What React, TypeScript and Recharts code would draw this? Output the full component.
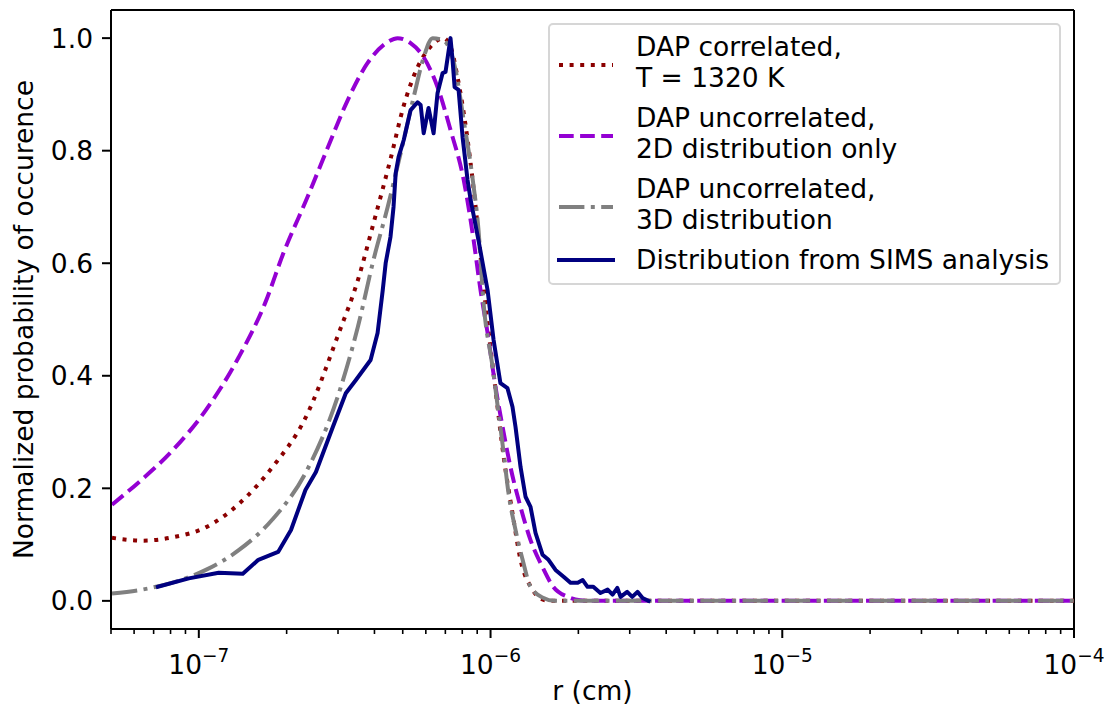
import { LineChart, Line, XAxis, YAxis, ReferenceLine } from 'recharts'

const FONT = '"DejaVu Sans", sans-serif'
const FS = 26.5

// r in cm, normalized probability
const corrR = [5.04e-8, 6.43e-8, 8.15e-8, 1.06e-7, 1.37e-7, 1.79e-7, 2.32e-7, 3.02e-7, 3.51e-7, 3.97e-7, 4.54e-7, 5.04e-7, 5.62e-7, 6.23e-7, 6.9e-7, 7.29e-7, 7.71e-7, 8.34e-7, 8.89e-7, 9.46e-7, 1.04e-6, 1.109e-6, 1.189e-6, 1.267e-6, 1.393e-6, 1.483e-6, 1.6e-6, 1e-5, 1e-4]
const corrP = [0.112, 0.107, 0.113, 0.131, 0.172, 0.238, 0.325, 0.476, 0.57, 0.671, 0.785, 0.88, 0.948, 0.985, 1.0, 0.985, 0.93, 0.82, 0.7, 0.56, 0.375, 0.256, 0.156, 0.073, 0.02, 0.004, 0, 0, 0]

const unc2dR = [5.04e-8, 6.23e-8, 8.15e-8, 1.057e-7, 1.37e-7, 1.69e-7, 1.95e-7, 2.36e-7, 2.77e-7, 3.24e-7, 3.79e-7, 4.44e-7, 4.8e-7, 5.32e-7, 5.9e-7, 6.58e-7, 7.29e-7, 8.09e-7, 8.75e-7, 9.24e-7, 9.77e-7, 1.04e-6, 1.1e-6, 1.17e-6, 1.267e-6, 1.371e-6, 1.507e-6, 1.64e-6, 1.84e-6, 2.03e-6, 2.2e-6, 1e-5, 1e-4]
const unc2dP = [0.171, 0.211, 0.268, 0.339, 0.433, 0.53, 0.618, 0.718, 0.806, 0.89, 0.956, 0.993, 1.0, 0.991, 0.966, 0.913, 0.837, 0.748, 0.641, 0.552, 0.476, 0.38, 0.309, 0.238, 0.167, 0.108, 0.06, 0.025, 0.007, 0.001, 0, 0, 0]

const unc3dR = [5.04e-8, 7.13e-8, 1.057e-7, 1.37e-7, 1.79e-7, 2.32e-7, 3.02e-7, 3.51e-7, 3.97e-7, 4.44e-7, 4.92e-7, 5.45e-7, 5.9e-7, 6.33e-7, 6.9e-7, 7.59e-7, 8.09e-7, 8.68e-7, 9.09e-7, 9.46e-7, 1.016e-6, 1.065e-6, 1.109e-6, 1.152e-6, 1.218e-6, 1.288e-6, 1.371e-6, 1.52e-6, 1.65e-6, 1e-5, 1e-4]
const unc3dP = [0.013, 0.025, 0.055, 0.09, 0.145, 0.227, 0.369, 0.487, 0.606, 0.7, 0.796, 0.895, 0.966, 1.0, 0.996, 0.943, 0.854, 0.75, 0.66, 0.53, 0.416, 0.334, 0.263, 0.192, 0.126, 0.073, 0.025, 0.005, 0, 0, 0]

const simsR = [7.24e-8, 9.24e-8, 1.17e-7, 1.415e-7, 1.6e-7, 1.87e-7, 2.07e-7, 2.32e-7, 2.52e-7, 2.88e-7, 3.19e-7, 3.45e-7, 3.88e-7, 4.1e-7, 4.27e-7, 4.37e-7, 4.54e-7, 4.65e-7, 4.73e-7, 4.84e-7, 5.04e-7, 5.32e-7, 5.62e-7, 5.76e-7, 5.9e-7, 6.13e-7, 6.38e-7, 6.58e-7, 6.85e-7, 7.01e-7, 7.13e-7, 7.29e-7, 7.41e-7, 7.53e-7, 7.77e-7, 8.02e-7, 8.34e-7, 8.55e-7, 9.09e-7, 9.77e-7, 1.024e-6, 1.081e-6, 1.143e-6, 1.189e-6, 1.218e-6, 1.267e-6, 1.318e-6, 1.371e-6, 1.426e-6, 1.507e-6, 1.58e-6, 1.67e-6, 1.78e-6, 1.88e-6, 1.99e-6, 2.07e-6, 2.15e-6, 2.25e-6, 2.38e-6, 2.52e-6, 2.62e-6, 2.72e-6, 2.79e-6, 2.94e-6, 3.06e-6, 3.19e-6, 3.32e-6, 3.48e-6]
const simsP = [0.025, 0.04, 0.05, 0.048, 0.073, 0.087, 0.126, 0.197, 0.229, 0.309, 0.369, 0.392, 0.428, 0.476, 0.552, 0.6, 0.647, 0.7, 0.76, 0.789, 0.819, 0.872, 0.886, 0.881, 0.831, 0.876, 0.831, 0.902, 0.938, 0.94, 0.966, 1.0, 0.961, 0.913, 0.908, 0.824, 0.748, 0.712, 0.641, 0.552, 0.464, 0.387, 0.378, 0.345, 0.309, 0.238, 0.185, 0.167, 0.121, 0.082, 0.073, 0.055, 0.043, 0.032, 0.032, 0.037, 0.025, 0.025, 0.014, 0.02, 0.011, 0.023, 0.007, 0.016, 0.007, 0.016, 0.005, 0.0]

const X_DOMAIN = [5e-8, 1e-4]
const Y_DOMAIN = [-0.05, 1.05]
const majorTicks = [1e-7, 1e-6, 1e-5, 1e-4]
const minorSteps = [2, 3, 4, 5, 6, 7, 8, 9]
const yTicks = [0, 0.2, 0.4, 0.6, 0.8, 1.0]

const minorTicks = [1e-8, 1e-7, 1e-6, 1e-5]
  .flatMap((d) => minorSteps.map((m) => m * d))
  .filter((v) => v >= X_DOMAIN[0] * 0.999 && v <= X_DOMAIN[1])
const xTicks = [...minorTicks, ...majorTicks]
const majorSet = new Set(majorTicks)

const toPoints = (r: number[], p: number[]) => r.map((x, i) => ({ r: x, p: p[i] }))

const series = [
  { key: 'corr', label: ['DAP correlated,', 'T = 1320 K'], color: '#8b0000', dash: '4 6.6', cap: 'butt', curve: 'monotone', data: toPoints(corrR, corrP) },
  { key: 'unc2d', label: ['DAP uncorrelated,', '2D distribution only'], color: '#9400d3', dash: '14.7 6.4', cap: 'butt', curve: 'monotone', data: toPoints(unc2dR, unc2dP) },
  { key: 'unc3d', label: ['DAP uncorrelated,', '3D distribution'], color: '#808080', dash: '25.4 6.4 4 6.4', cap: 'butt', curve: 'monotone', data: toPoints(unc3dR, unc3dP) },
  { key: 'sims', label: ['Distribution from SIMS analysis'], color: '#000080', dash: undefined, cap: 'square', curve: 'linear', data: toPoints(simsR, simsP) },
]

function LogTick({ x, y, payload }: any) {
  const v = payload.value
  const major = majorSet.has(v)
  const exp = Math.round(Math.log10(v))
  return (
    <g>
      <line x1={x} x2={x} y1={y} y2={y + (major ? 9 : 5)} stroke="#000" strokeWidth={major ? 2 : 1.6} />
      {major && (
        <text x={x} y={y + 45} textAnchor="middle" fill="#000" fontFamily={FONT} fontSize={FS}>
          <tspan>10</tspan>
          <tspan dy={-12} fontSize={FS * 0.7}>{'\u2212' + Math.abs(exp)}</tspan>
        </text>
      )}
    </g>
  )
}

function XTitle({ viewBox }: any) {
  const cx = viewBox ? viewBox.x + viewBox.width / 2 : 592
  return (
    <text x={cx} y={700} textAnchor="middle" fill="#000" fontFamily={FONT} fontSize={FS}>
      r (cm)
    </text>
  )
}

function YTitle({ viewBox }: any) {
  const cy = viewBox ? viewBox.y + viewBox.height / 2 : 319
  return (
    <text x={33} y={cy} transform={`rotate(-90, 33, ${cy})`} textAnchor="middle" fill="#000" fontFamily={FONT} fontSize={FS}>
      Normalized probability of occurence
    </text>
  )
}

function LegendBox() {
  return (
    <div
      style={{
        position: 'absolute',
        left: 548,
        top: 23,
        width: 513,
        height: 262,
        boxSizing: 'border-box',
        border: '2px solid #d6d6d6',
        borderRadius: 5,
        background: 'rgba(255,255,255,0.8)',
        fontFamily: FONT,
        fontSize: FS,
        color: '#000',
      }}
    >
      <div style={{ position: 'absolute', left: 9, top: 6, display: 'flex', flexDirection: 'column', gap: 9 }}>
        {series.map((s) => (
          <div key={s.key} style={{ display: 'flex', alignItems: 'center' }}>
            <svg width={58} height={12} style={{ flex: 'none', marginTop: s.label.length > 1 ? 5 : 0, overflow: 'visible' }}>
              <line
                x1={0}
                x2={54}
                y1={6}
                y2={6}
                stroke={s.color}
                strokeWidth={4}
                strokeDasharray={s.dash}
                strokeLinecap={s.cap as any}
              />
            </svg>
            <div style={{ marginLeft: 19, lineHeight: '31px', whiteSpace: 'pre' }}>
              {s.label.map((l) => (
                <div key={l}>{l}</div>
              ))}
            </div>
          </div>
        ))}
      </div>
    </div>
  )
}

export default function App() {
  return (
    <div style={{ position: 'absolute', left: 0, top: 0, width: 1108, height: 713, background: '#fff' }}>
      <LineChart width={1108} height={713} margin={{ top: 10, right: 34, bottom: 0, left: 0 }}>
        <XAxis
          dataKey="r"
          type="number"
          scale="log"
          domain={X_DOMAIN}
          allowDataOverflow
          ticks={xTicks}
          interval={0}
          height={84}
          tickSize={0}
          tickMargin={0}
          tickLine={false}
          tick={<LogTick />}
          axisLine={{ stroke: '#000', strokeWidth: 2 }}
          label={<XTitle />}
        />
        <YAxis
          type="number"
          domain={Y_DOMAIN}
          allowDataOverflow
          ticks={yTicks}
          interval={0}
          width={111}
          tickSize={9}
          tickMargin={9}
          tickFormatter={(v: number) => v.toFixed(1)}
          tick={{ fill: '#000', fontSize: FS, fontFamily: FONT }}
          tickLine={{ stroke: '#000', strokeWidth: 2 }}
          axisLine={{ stroke: '#000', strokeWidth: 2 }}
          label={<YTitle />}
        />
        {/* top and right spines */}
        <ReferenceLine y={Y_DOMAIN[1]} stroke="#000" strokeWidth={2} ifOverflow="visible" />
        <ReferenceLine x={X_DOMAIN[1]} stroke="#000" strokeWidth={2} ifOverflow="visible" />
        {series.map((s) => (
          <Line
            key={s.key}
            data={s.data}
            dataKey="p"
            type={s.curve as any}
            stroke={s.color}
            strokeWidth={4}
            strokeDasharray={s.dash}
            strokeLinecap={s.cap as any}
            strokeLinejoin="round"
            dot={false}
            activeDot={false}
            isAnimationActive={false}
          />
        ))}
      </LineChart>
      <LegendBox />
    </div>
  )
}
